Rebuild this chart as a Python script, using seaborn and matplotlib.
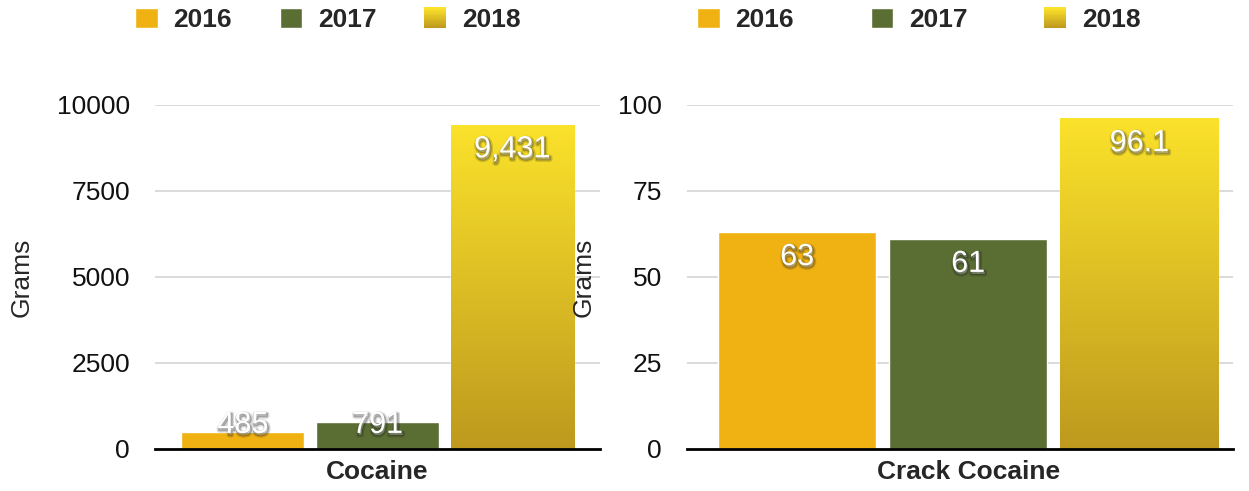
import numpy as np
import pandas as pd
import matplotlib
matplotlib.use('Agg')
import matplotlib.pyplot as plt
import matplotlib.patheffects as pe
from matplotlib.patches import Patch, Rectangle
from matplotlib.legend_handler import HandlerBase
from matplotlib.colors import LinearSegmentedColormap
import seaborn as sns

# data
years = ['2016', '2017', '2018']
cocaine_grams = [485, 791, 9431]
crack_grams = [63, 61, 96.1]
cocaine_labels = ['485', '791', '9,431']
crack_labels = ['63', '61', '96.1']
cocaine_ticks = [0, 2500, 5000, 7500, 10000]
crack_ticks = [0, 25, 50, 75, 100]

c16 = '#F0B212'
c17 = '#5A6E34'
grad18 = LinearSegmentedColormap.from_list('g18', ['#BE991E', '#FBE22B'])

sns.set_style('white')
plt.rcParams['font.family'] = ['Liberation Sans', 'DejaVu Sans']


class GradientHandler(HandlerBase):
    def create_artists(self, legend, orig_handle, xdescent, ydescent,
                       width, height, fontsize, trans):
        n = 24
        out = []
        for i in range(n):
            r = Rectangle((-xdescent, -ydescent + height * i / n), width, height / n + 0.3,
                          facecolor=grad18(i / (n - 1)), linewidth=0, transform=trans)
            out.append(r)
        return out


fig = plt.figure(figsize=(12.49, 4.91), dpi=100)
W, H = 1249, 491

panels = [
    ('Cocaine', cocaine_grams, cocaine_labels, cocaine_ticks, (155, 445), 0.908, 0.085, (-0.5, 0.5), -0.272, 328, 1.8),
    ('Crack Cocaine', crack_grams, crack_labels, crack_ticks, (687, 546), 0.94, 0.076, (-0.515, 0.485), -0.168, 919, 2.9),
]

for drug, vals, labs, ticks, (px, pw), bw, gap, xl, ylab_x, leg_cx, colsp in panels:
    ax = fig.add_axes([px / W, (H - 449) / H, pw / W, 344 / H])
    df = pd.DataFrame({'drug': drug, 'year': years, 'grams': vals})
    sns.barplot(data=df, x='drug', y='grams', hue='year', palette=[c16, c17, '#DDBB25'],
                width=bw, gap=gap, saturation=1, legend=False, ax=ax, zorder=3)
    ymax = ticks[-1]

    # gradient fill on the 2018 bar
    for bar in ax.containers[2]:
        x0, y0 = bar.get_x(), bar.get_y()
        x1, y1 = x0 + bar.get_width(), y0 + bar.get_height()
        grad = np.linspace(0, 1, 256).reshape(-1, 1)
        im = ax.imshow(grad, extent=[x0, x1, y0, y1], origin='lower', aspect='auto',
                       cmap=grad18, zorder=3.5)
        im.set_clip_path(bar)

    # value labels
    for cont, lab in zip(ax.containers, labs):
        bar = cont[0]
        v = bar.get_height()
        yc = max(v - 0.072 * ymax, 0.07 * ymax)
        ax.text(bar.get_x() + bar.get_width() / 2, yc, lab, ha='center', va='center',
                fontsize=22, color='white', zorder=5,
                path_effects=[pe.Stroke(linewidth=3.5, foreground='black', alpha=0.15, offset=(0.8, -1.5)),
                              pe.Stroke(linewidth=1.5, foreground='#222222', alpha=0.3, offset=(0.8, -1.5)),
                              pe.Normal()])

    ax.set_xlim(*xl)
    ax.set_ylim(0, ymax)
    ax.set_yticks(ticks)
    ax.set_yticklabels([str(t) for t in ticks])
    for t in ticks[1:]:
        ax.axhline(t, color='#D4D4D4', lw=1.2, zorder=1)
    for s in ['top', 'right', 'left']:
        ax.spines[s].set_visible(False)
    ax.spines['bottom'].set_color('black')
    ax.spines['bottom'].set_linewidth(2)
    ax.spines['bottom'].set_zorder(6)
    ax.tick_params(axis='y', length=0, pad=18, labelsize=19, labelcolor='#111111')
    ax.tick_params(axis='x', length=0, pad=8, labelsize=19)
    for tl in ax.get_xticklabels():
        tl.set_fontweight('bold')
    ax.set_xlabel('')
    ax.set_ylabel('Grams', fontsize=19)
    ax.yaxis.set_label_coords(ylab_x, 0.5)
    ax.patch.set_alpha(0)

    h18 = Patch(facecolor='#DDBB25')
    handles = [Patch(facecolor=c16), Patch(facecolor=c17), h18]
    leg = fig.legend(handles, years, loc='center', bbox_to_anchor=(leg_cx / W, 1 - 20 / H),
                     ncol=3, frameon=False, handlelength=0.85, handleheight=0.8,
                     handletextpad=0.6, columnspacing=colsp, borderaxespad=0,
                     prop={'size': 19, 'weight': 'bold'},
                     handler_map={h18: GradientHandler()})

fig.savefig('out.png', dpi=100)
